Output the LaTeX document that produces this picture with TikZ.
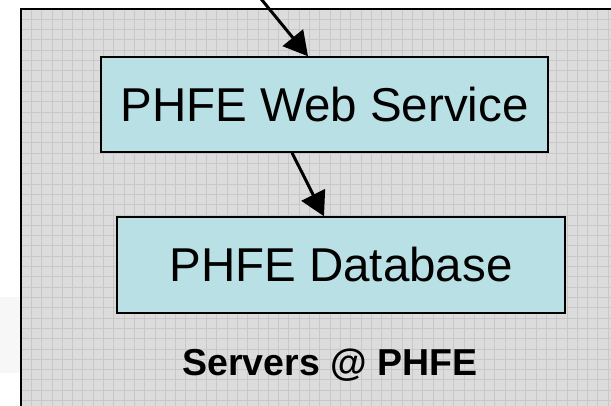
\documentclass[tikz,border=0pt]{standalone}
\usepackage{fontspec}
\setmainfont{Liberation Sans}
\usetikzlibrary{arrows.meta}

\definecolor{boxcyan}{HTML}{B9E0E4}
\definecolor{panelgray}{HTML}{DCDCDC}
\definecolor{gridgray}{HTML}{C8C8C8}

\begin{document}
\begin{tikzpicture}[x=1pt,y=-1pt]

        \useasboundingbox (0,0) rectangle (611,406);
        \clip (0,0) rectangle (611,406);

        % shaded panel with grid
        \fill[black!3] (0,297) rectangle (20,373);
        \fill[panelgray] (21,9) rectangle (640,430);
        \foreach \gx in {31.3,41.6,...,611}
          \draw[gridgray, line width=0.8pt] (\gx,9) -- (\gx,406);
        \foreach \gy in {19.3,29.6,...,406}
          \draw[gridgray, line width=0.8pt] (21,\gy) -- (611,\gy);
        \draw[line width=2pt] (21,9) rectangle (640,430);

        \begin{scope}[every node/.style={draw,line width=1.5pt,fill=boxcyan,inner sep=0pt,
            font=\fontsize{47.5}{50}\selectfont}]
          \node[minimum width=447pt, minimum height=95pt] (web) at (324.5,104.5) {PHFE Web Service};
          \node[minimum width=448pt, minimum height=96pt] (db)  at (341,265)    {PHFE Database};
        \end{scope}

        \node[anchor=base, font=\bfseries\fontsize{37.5}{40}\selectfont] (servers) at (330,375) {Servers @ PHFE};

        \coordinate (feed) at (259.5,-3);

        \begin{scope}[every edge/.style={draw,line width=3pt,-{Triangle[length=24pt,width=26pt]}}]
          \path (feed) edge ([xshift=-16.5pt]web.north);
          \path ([xshift=-32.5pt]web.south) edge ([xshift=-17pt]db.north);
        \end{scope}

      \end{tikzpicture}
\end{document}
